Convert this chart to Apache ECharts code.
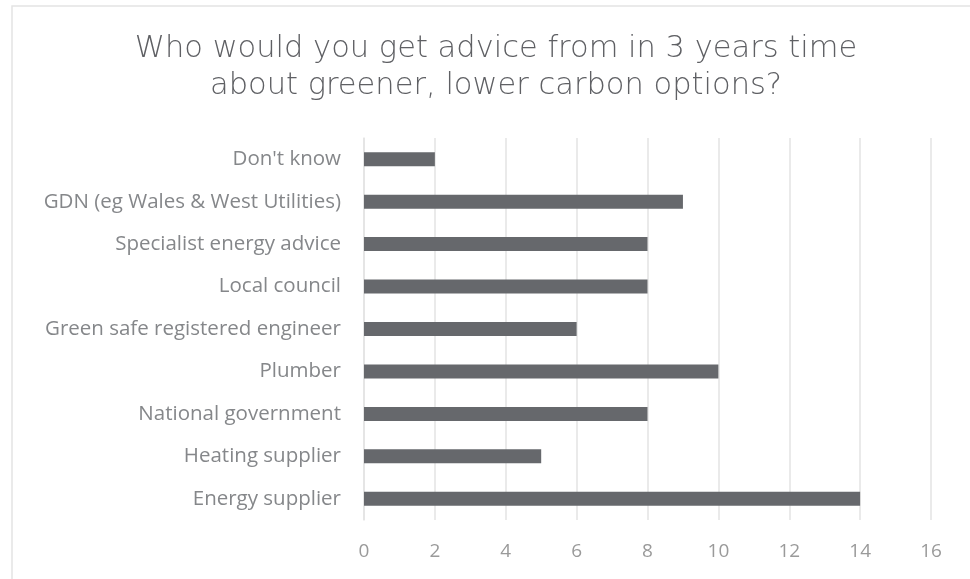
<!DOCTYPE html>
<html>
<head>
<meta charset="utf-8">
<script src="https://cdn.jsdelivr.net/npm/echarts@6/dist/echarts.min.js"></script>
<style>
  html, body { margin: 0; padding: 0; background: #fff; }
  #chart { width: 970px; height: 579px; }
</style>
</head>
<body>
<div id="chart"></div>
<script>
// Advice sources, listed bottom to top as drawn on the category axis
const categories = [
  'Energy supplier',
  'Heating supplier',
  'National government',
  'Plumber',
  'Green safe registered engineer',
  'Local council',
  'Specialist energy advice',
  'GDN (eg Wales & West Utilities)',
  "Don't know"
];
const responses = [14, 5, 8, 10, 6, 8, 8, 9, 2];
const valueTicks = [0, 2, 4, 6, 8, 10, 12, 14, 16];

const chart = echarts.init(document.getElementById('chart'));

chart.setOption({
  backgroundColor: '#ffffff',
  animation: false,
  title: {
    text: 'Who would you get advice from in 3 years time\nabout greener, lower carbon options?',
    left: 491,
    top: 26,
    textAlign: 'center',
    textStyle: {
      fontFamily: 'DejaVu Sans',
      fontWeight: 200,
      fontSize: 30.5,
      lineHeight: 37,
      color: '#5f6064'
    }
  },
  graphic: [{
    type: 'rect',
    shape: { x: 12, y: 6, width: 980, height: 600 },
    style: { fill: 'none', stroke: '#e4e4e4', lineWidth: 1.5 },
    silent: true,
    z: -1
  }],
  grid: { left: 364, right: 39, top: 138, bottom: 59, containLabel: false },
  xAxis: {
    type: 'value',
    min: valueTicks[0],
    max: valueTicks[valueTicks.length - 1],
    interval: 2,
    axisLine: { show: false },
    axisTick: { show: false },
    splitLine: { show: true, lineStyle: { color: '#e3e3e3', width: 1.5 } },
    axisLabel: {
      margin: 22,
      fontFamily: 'Open Sans',
      fontSize: 19,
      color: '#9a9a9a'
    }
  },
  yAxis: {
    type: 'category',
    data: categories,
    axisLine: { show: true, lineStyle: { color: '#e3e3e3', width: 1.5 } },
    axisTick: { show: false },
    axisLabel: {
      margin: 23,
      fontFamily: 'Open Sans',
      fontSize: 20.5,
      color: '#85878a'
    }
  },
  series: [{
    type: 'bar',
    data: responses,
    barWidth: 14,
    itemStyle: { color: '#66686c' },
    silent: true
  }]
});
</script>
</body>
</html>
